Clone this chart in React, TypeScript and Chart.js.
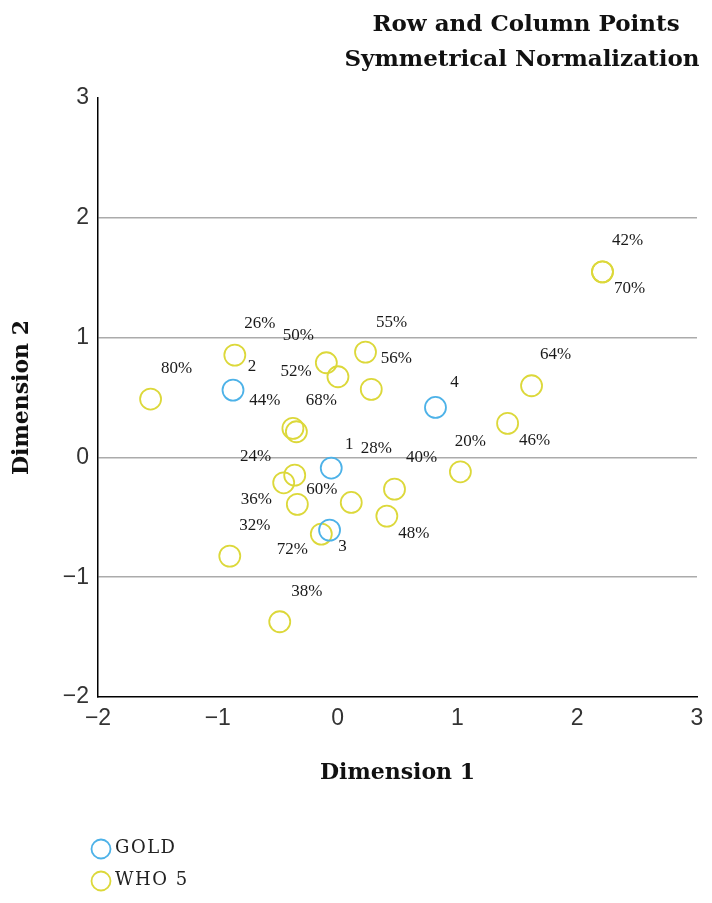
import React, { useEffect, useRef } from 'react';
import { Chart, registerables } from 'chart.js';

Chart.register(...registerables);

// ---- Data ----
const titleLines = ['Row and Column Points', 'Symmetrical Normalization'];
const xAxisTitle = 'Dimension 1';
const yAxisTitle = 'Dimension 2';
const axisMin = -2;
const axisMax = 3;

const goldName = 'GOLD';
const goldLabels = ['1', '2', '3', '4'];
const goldX = [-0.053, -0.873, -0.067, 0.817];
const goldY = [-0.089, 0.562, -0.607, 0.417];

const whoName = 'WHO 5';
const whoLabels = ['80%', '26%', '50%', '52%', '44%', '68%', '55%', '56%', '64%', '46%', '20%', '40%', '48%', '28%', '36%', '60%', '24%', '72%', '32%', '38%', '42%', '70%'];
const whoX = [-1.561, -0.858, -0.094, 0.003, -0.373, -0.344, 0.233, 0.281, 1.619, 1.419, 1.025, 0.475, 0.411, 0.114, -0.336, -0.358, -0.45, -0.136, -0.9, -0.483, 2.211, 2.211];
const whoY = [0.487, 0.854, 0.79, 0.673, 0.242, 0.214, 0.879, 0.568, 0.598, 0.284, -0.12, -0.265, -0.49, -0.376, -0.392, -0.148, -0.212, -0.64, -0.824, -1.372, 1.549, 1.549];

// label placement offsets (pixels) relative to each point
const goldLabelOffsets = [[18, -24], [19, -24], [13, 16], [19, -25]];
const whoLabelOffsets = [[26, -31], [25, -32], [-28, -27], [-42, -5], [-28, -28], [25, -31], [26, -30], [25, -31], [24, -31], [27, 17], [10, -30], [27, -32], [27, 17], [25, -54], [-41, -5], [27, 14], [-28, -26], [-29, 15], [25, -31], [27, -30], [25, -31], [27, 17]];

const GOLD_COLOR = '#4db2e8';
const WHO_COLOR = '#dcd83a';

const fmt = (v: number) => (v < 0 ? '\u2212' + Math.abs(v) : String(v));

export default function App() {
  const ref = useRef<HTMLCanvasElement>(null);

  useEffect(() => {
    const canvas = ref.current;
    if (!canvas) return;

    const pointLabelPlugin = {
      id: 'pointLabelPlugin',
      afterDatasetsDraw(chart: any) {
        const ctx = chart.ctx;
        ctx.save();
        ctx.font = '17px "Liberation Serif", serif';
        ctx.fillStyle = '#1a1a1a';
        ctx.textAlign = 'center';
        ctx.textBaseline = 'middle';
        chart.data.datasets.forEach((ds: any, di: number) => {
          const meta = chart.getDatasetMeta(di);
          meta.data.forEach((el: any, i: number) => {
            const off = ds.labelOffsets[i];
            ctx.fillText(ds.pointText[i], el.x + off[0], el.y + off[1]);
          });
        });
        ctx.restore();
      },
    };

    const titleLegendPlugin = {
      id: 'titleLegendPlugin',
      afterDraw(chart: any) {
        const ctx = chart.ctx;
        ctx.save();
        ctx.fillStyle = '#111';
        ctx.font = 'bold 23px "DejaVu Serif", serif';
        ctx.textAlign = 'center';
        ctx.textBaseline = 'alphabetic';
        ctx.fillText(titleLines[0], 526, 31);
        ctx.fillText(titleLines[1], 522, 66);

        // legend
        ctx.textAlign = 'left';
        ctx.textBaseline = 'middle';
        ctx.font = '18px "DejaVu Serif", serif';
        try { (ctx as any).letterSpacing = '1.5px'; } catch (e) {}
        chart.data.datasets.forEach((ds: any, i: number) => {
          const cy = 849 + i * 32;
          ctx.beginPath();
          ctx.arc(101, cy, 9.5, 0, Math.PI * 2);
          ctx.strokeStyle = ds.borderColor;
          ctx.lineWidth = 1.8;
          ctx.stroke();
          ctx.fillStyle = '#222';
          ctx.fillText(ds.label, 115, cy - 1);
        });
        ctx.restore();
      },
    };

    const tickFont = { family: '"Liberation Sans", sans-serif', size: 23 };
    const axisTitleFont = { family: '"DejaVu Serif", serif', size: 22, weight: 'bold' as const };

    const chart = new Chart(canvas, {
      type: 'scatter',
      data: {
        datasets: [
          {
            label: goldName,
            data: goldX.map((x, i) => ({ x, y: goldY[i] })),
            borderColor: GOLD_COLOR,
            backgroundColor: 'rgba(0,0,0,0)',
            borderWidth: 1.8,
            pointRadius: 10.5,
            pointHoverRadius: 10.5,
            pointText: goldLabels,
            labelOffsets: goldLabelOffsets,
          } as any,
          {
            label: whoName,
            data: whoX.map((x, i) => ({ x, y: whoY[i] })),
            borderColor: WHO_COLOR,
            backgroundColor: 'rgba(0,0,0,0)',
            borderWidth: 1.8,
            pointRadius: 10.5,
            pointHoverRadius: 10.5,
            pointText: whoLabels,
            labelOffsets: whoLabelOffsets,
          } as any,
        ],
      },
      options: {
        responsive: false,
        animation: false,
        layout: { padding: { top: 98, right: 15, bottom: 110, left: 0 } },
        plugins: {
          legend: { display: false },
          tooltip: { enabled: false },
          title: { display: false },
        },
        scales: {
          x: {
            type: 'linear',
            min: axisMin,
            max: axisMax,
            ticks: { stepSize: 1, callback: (v: any) => fmt(Number(v)), font: tickFont, color: '#333', padding: 8, maxRotation: 0, autoSkip: false },
            grid: { display: false, drawTicks: false },
            border: { display: true, color: '#000', width: 1.5 },
            title: { display: true, text: xAxisTitle, font: axisTitleFont, color: '#111', padding: { top: 0, bottom: 7 } },
            afterFit: (s: any) => { s.height = 96; },
          },
          y: {
            type: 'linear',
            min: axisMin,
            max: axisMax,
            ticks: { stepSize: 1, callback: (v: any) => fmt(Number(v)), font: tickFont, color: '#333', padding: 9 },
            grid: {
              display: true,
              drawTicks: false,
              lineWidth: 1.5,
              color: (c: any) => (c.tick && (c.tick.value === axisMax || c.tick.value === axisMin) ? 'rgba(0,0,0,0)' : '#ababab'),
            },
            border: { display: true, color: '#000', width: 1.5 },
            title: { display: true, text: yAxisTitle, font: axisTitleFont, color: '#111', padding: { top: 9, bottom: 0 } },
            afterFit: (s: any) => { s.width = 98; },
          },
        },
      } as any,
      plugins: [pointLabelPlugin, titleLegendPlugin],
    });

    return () => chart.destroy();
  }, []);

  return (
    <div style={{ position: 'absolute', left: 0, top: 0, width: 712, height: 903, background: '#fff' }}>
      <canvas ref={ref} width={712} height={903} style={{ display: 'block' }} />
    </div>
  );
}
